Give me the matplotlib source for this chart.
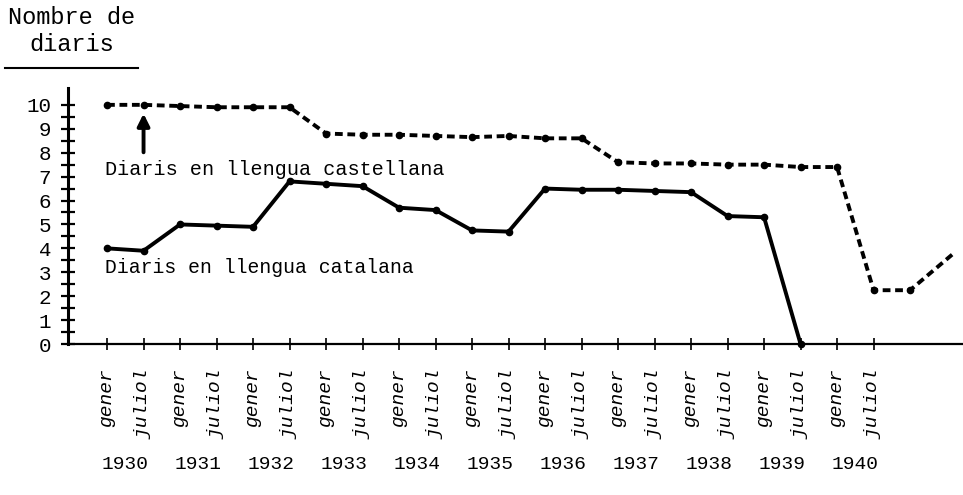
import matplotlib.pyplot as plt
from matplotlib.lines import Line2D
import numpy as np

# half-year periods: 0 = gener 1930, 1 = juliol 1930, ...
catalan_x = list(range(20))
catalan = [4.0, 3.9, 5.0, 4.95, 4.9, 6.8, 6.7, 6.6, 5.7, 5.6,
           4.75, 4.7, 6.5, 6.45, 6.45, 6.4, 6.35, 5.35, 5.3, 0.0]

castella_x = list(range(23)) + [23.2]
castella = [10.0, 10.0, 9.95, 9.9, 9.9, 9.9, 8.8, 8.75, 8.75, 8.7,
            8.65, 8.7, 8.6, 8.6, 7.6, 7.55, 7.55, 7.5, 7.5, 7.4,
            7.4, 2.25, 2.25, 3.8]

mesos = ['gener', 'juliol'] * 11
anys = ['1930', '1931', '1932', '1933', '1934', '1935', '1936', '1937',
        '1938', '1939', '1940']

plt.rcParams['font.family'] = ['Liberation Mono', 'DejaVu Sans Mono']

fig = plt.figure(figsize=(9.63, 4.95), dpi=100)
ax = fig.add_axes([0.0706, 0.305, 0.9294, 0.517])

# castellana (dashed)
ax.plot(castella_x, castella, color='black', lw=2.8, ls=(0, (2.0, 1.2)),
        marker='o', ms=4.5, markevery=list(range(23)))
# catalana (solid)
ax.plot(catalan_x, catalan, color='black', lw=2.8, marker='o', ms=4.5,
        clip_on=False, zorder=3)

ax.set_xlim(-1.07, 23.45)
ax.set_ylim(0, 10.7)

ax.set_yticks(range(11))
ax.set_yticks(np.arange(0.5, 10.5, 1), minor=True)
ax.tick_params(axis='y', which='both', direction='inout', length=10, width=1.6,
               labelsize=15, pad=7)

ax.set_xticks(range(len(mesos)))
ax.set_xticklabels(mesos, rotation=90, fontstyle='italic', fontsize=14)
ax.tick_params(axis='x', direction='inout', length=9, width=1.2, pad=13)

for s in ['top', 'right']:
    ax.spines[s].set_visible(False)
ax.spines['left'].set_linewidth(2.2)
ax.spines['bottom'].set_linewidth(1.6)

# years under the month labels
for k, a in enumerate(anys):
    ax.text(2 * k + 0.5, -0.47, a, transform=ax.get_xaxis_transform(),
            ha='center', va='center', fontsize=14)

ax.text(-0.05, 7.3, 'Diaris en llengua castellana', fontsize=14.5,
        ha='left', va='center')
ax.text(-0.05, 3.2, 'Diaris en llengua catalana', fontsize=14.2,
        ha='left', va='center')
ax.annotate('', xy=(1.0, 9.75), xytext=(1.0, 7.9),
            arrowprops=dict(arrowstyle='-|>', color='black', lw=2.8,
                            mutation_scale=18))

fig.text(0.074, 0.937, 'Nombre de\ndiaris', ha='center', va='center',
         fontsize=17, multialignment='center', linespacing=1.25)
fig.add_artist(Line2D([0.005, 0.143], [0.863, 0.863], color='black', lw=1.5))

fig.savefig('out.png', dpi=100)
